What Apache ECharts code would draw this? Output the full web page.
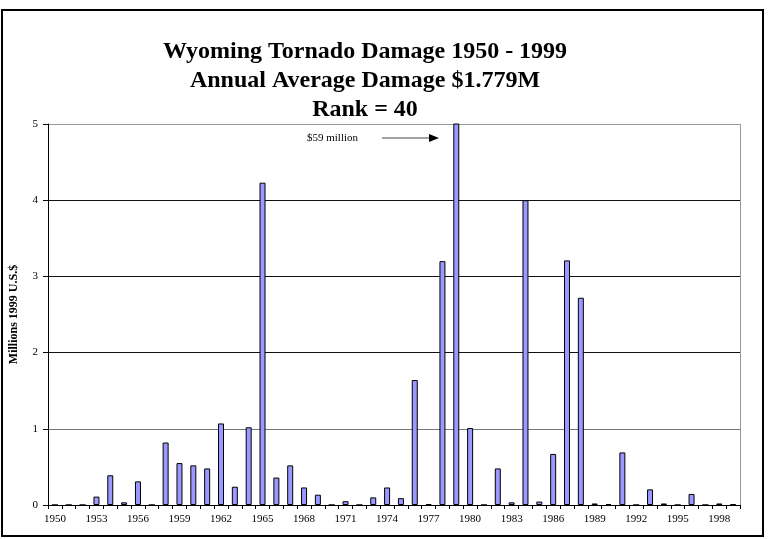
<!DOCTYPE html>
<html>
<head>
<meta charset="utf-8">
<script src="https://cdn.jsdelivr.net/npm/echarts@6/dist/echarts.min.js"></script>
<style>
html,body{margin:0;padding:0;background:#fff;}
#chart{width:768px;height:539px;}
</style>
</head>
<body>
<div id="chart"></div>
<script>
var titleLines = ['Wyoming Tornado Damage 1950 - 1999', 'Annual Average Damage $1.779M', 'Rank = 40'];
var yAxisName = 'Millions 1999 U.S.$';
var annotationText = '$59 million';
var years = [];
for (var y = 1950; y <= 1999; y++) years.push(String(y));
var damage = [
  0, 0, 0, 0.11, 0.39, 0.035, 0.31, 0, 0.82, 0.55,
  0.52, 0.48, 1.07, 0.24, 1.02, 4.23, 0.36, 0.52, 0.23, 0.135,
  0, 0.05, 0, 0.10, 0.23, 0.09, 1.64, 0.01, 3.20, 59,
  1.01, 0, 0.48, 0.035, 4.00, 0.045, 0.67, 3.21, 2.72, 0.02,
  0.013, 0.69, 0, 0.205, 0.02, 0, 0.145, 0, 0.02, 0.01
];
var yTicks = [0, 1, 2, 3, 4, 5];

var serif = '"Liberation Serif", "Times New Roman", serif';
var chart = echarts.init(document.getElementById('chart'));
chart.setOption({
  backgroundColor: '#fff',
  animation: false,
  title: {
    text: titleLines.join('\n'),
    left: 360,
    top: 32,
    textAlign: 'center',
    textStyle: {fontFamily: serif, fontWeight: 'bold', fontSize: 24, lineHeight: 29, color: '#000'}
  },
  grid: {left: 45, right: 28, top: 124, bottom: 34, containLabel: false},
  xAxis: {
    type: 'category',
    data: years,
    axisLine: {lineStyle: {color: '#000', width: 1}},
    axisTick: {show: true, interval: 0, length: 4, lineStyle: {color: '#000'}},
    axisLabel: {interval: 2, margin: 9, fontFamily: serif, fontSize: 11, color: '#000'},
    splitLine: {show: false}
  },
  yAxis: {
    type: 'value',
    min: yTicks[0],
    max: yTicks[yTicks.length - 1],
    interval: 1,
    name: yAxisName,
    nameLocation: 'middle',
    nameGap: 28,
    nameTextStyle: {fontFamily: serif, fontWeight: 'bold', fontSize: 12, color: '#000'},
    axisLine: {show: true, lineStyle: {color: '#000', width: 1}},
    axisTick: {show: true, length: 5, lineStyle: {color: '#000'}},
    axisLabel: {margin: 10, fontFamily: serif, fontSize: 11, color: '#000'},
    splitLine: {show: true, lineStyle: {color: ['#000', '#777', '#111', '#111', '#111', '#999'], width: 1}}
  },
  series: [{
    type: 'bar',
    data: damage,
    barWidth: 6,
    clip: true,
    itemStyle: {color: '#9999ff', borderColor: '#000', borderWidth: 1}
  }],
  graphic: [
    {type: 'rect', shape: {x: 2, y: 10, width: 761, height: 526}, style: {fill: null, stroke: '#000', lineWidth: 2}, silent: true, z: 100},
    {type: 'line', shape: {x1: 740.5, y1: 124, x2: 740.5, y2: 505}, style: {stroke: '#999', lineWidth: 1}, silent: true, z: 100},
    {type: 'text', x: 307, y: 138, style: {text: annotationText, fontFamily: serif, fontSize: 11, fill: '#000', textVerticalAlign: 'middle'}, z: 100},
    {type: 'line', shape: {x1: 382, y1: 138, x2: 430, y2: 138}, style: {stroke: '#444', lineWidth: 1}, z: 100},
    {type: 'polygon', shape: {points: [[429, 134], [439, 138], [429, 142]]}, style: {fill: '#000'}, z: 100}
  ]
});
</script>
</body>
</html>
